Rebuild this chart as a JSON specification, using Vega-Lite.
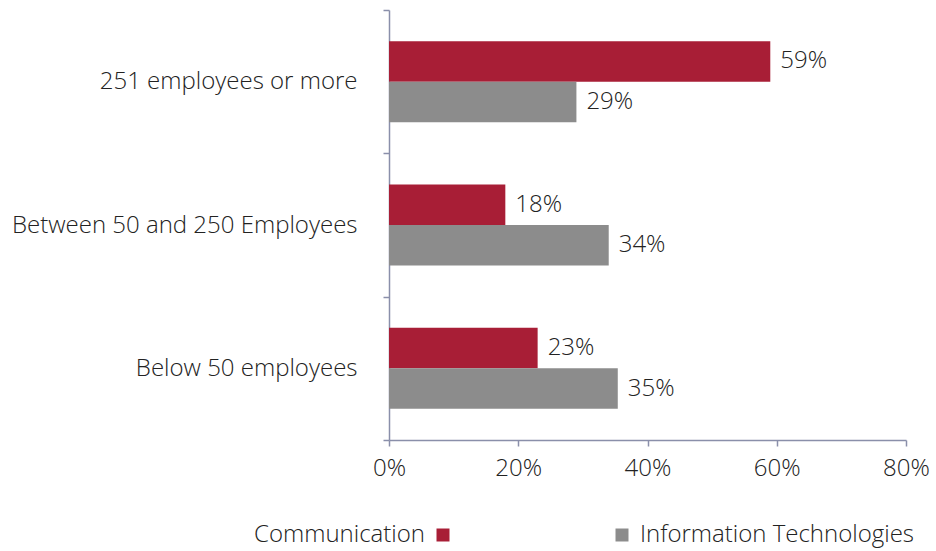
{
  "$schema": "https://vega.github.io/schema/vega-lite/v6.json",
  "width": 517,
  "height": 430,
  "autosize": {"type": "none"},
  "padding": {"left": 389, "top": 10, "right": 30, "bottom": 111},
  "background": "white",
  "config": {
    "view": {"stroke": null},
    "font": "Open Sans",
    "axis": {"labelFont": "Open Sans", "labelFontWeight": 300, "labelColor": "#222222", "labelFontSize": 24, "domainColor": "#8A8FAA", "tickColor": "#8A8FAA", "domainWidth": 1.5, "tickWidth": 1.5, "tickSize": 6, "grid": false, "title": null},
    "legend": {"labelFont": "Open Sans", "labelFontWeight": 300, "labelFontSize": 24, "labelColor": "#222222", "labelLimit": 400}
  },
  "data": {
    "values": [
      {"size": "251 employees or more", "sector": "Communication", "share": 0.59},
      {"size": "251 employees or more", "sector": "Information Technologies", "share": 0.29},
      {"size": "Between 50 and 250 Employees", "sector": "Communication", "share": 0.18},
      {"size": "Between 50 and 250 Employees", "sector": "Information Technologies", "share": 0.34},
      {"size": "Below 50 employees", "sector": "Communication", "share": 0.23},
      {"size": "Below 50 employees", "sector": "Information Technologies", "share": 0.354}
    ]
  },
  "encoding": {
    "y": {
      "field": "size", "type": "nominal",
      "sort": ["251 employees or more", "Between 50 and 250 Employees", "Below 50 employees"],
      "scale": {"paddingInner": 0, "paddingOuter": 0},
      "axis": {"tickBand": "extent", "labelPadding": 26, "labelLimit": 400}
    },
    "yOffset": {
      "field": "sector", "type": "nominal",
      "scale": {"paddingInner": 0, "paddingOuter": 0.77}
    },
    "x": {
      "field": "share", "type": "quantitative",
      "scale": {"domain": [0, 0.8]},
      "axis": {"values": [0, 0.2, 0.4, 0.6, 0.8], "format": ".0%", "labelPadding": 10, "labelFlush": false}
    }
  },
  "layer": [
    {
      "mark": {"type": "bar"},
      "encoding": {
        "color": {
          "field": "sector", "type": "nominal",
          "scale": {"domain": ["Communication", "Information Technologies"], "range": ["#A81E36", "#8C8C8C"]},
          "legend": {
            "title": null, "orient": "none", "direction": "horizontal",
            "legendX": 42, "legendY": 513,
            "symbolType": "square", "symbolSize": 169, "symbolStrokeWidth": 0,
            "columnPadding": 160, "labelOffset": 10, "padding": 0,
            "encode": {
              "labels": {
                "update": {
                  "x": {"signal": "datum.label === 'Communication' ? -6 : 30"},
                  "align": {"signal": "datum.label === 'Communication' ? 'right' : 'left'"}
                }
              }
            }
          }
        }
      }
    },
    {
      "mark": {"type": "text", "align": "left", "baseline": "middle", "dx": 10, "fontSize": 24, "fontWeight": 300, "color": "#222222", "font": "Open Sans"},
      "encoding": {
        "text": {"field": "share", "type": "quantitative", "format": ".0%"}
      }
    }
  ]
}
